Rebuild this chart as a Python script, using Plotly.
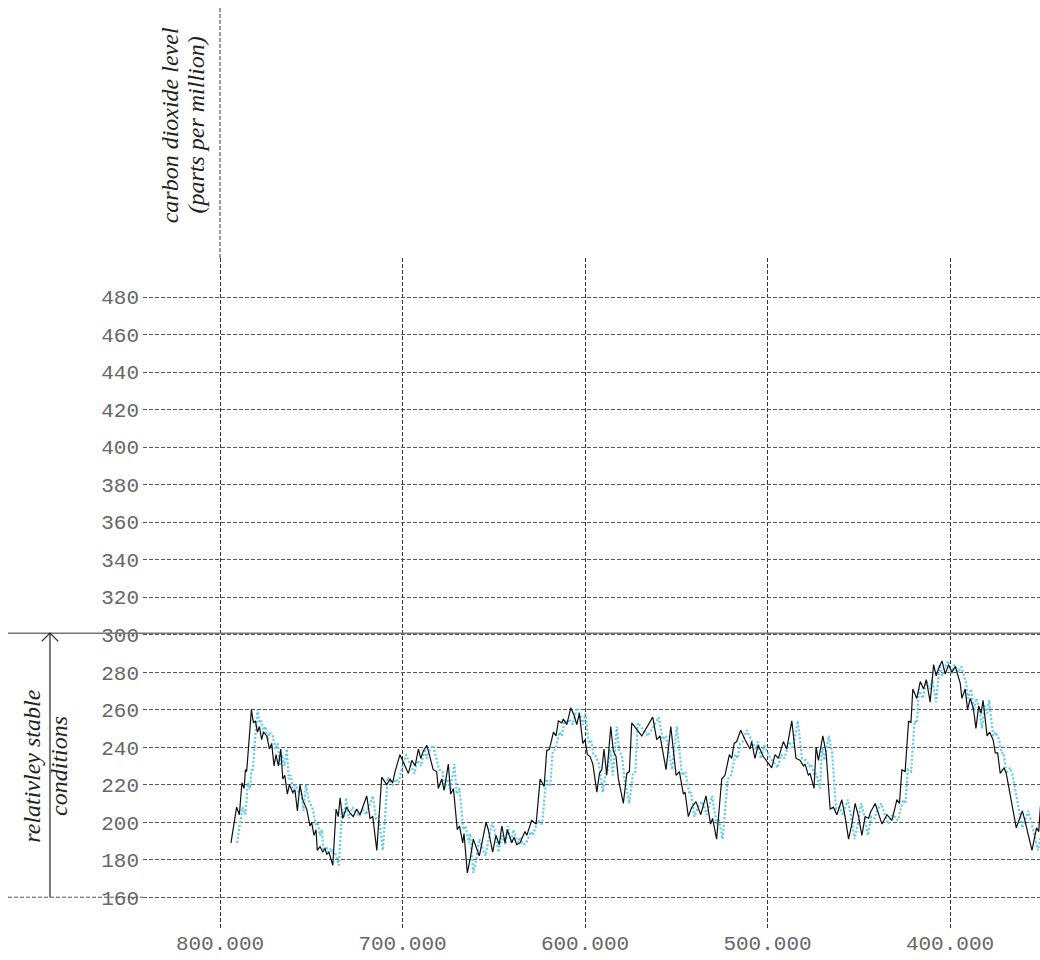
import plotly.graph_objects as go

# Age (thousand years before present) for the solid record
age_ice = [
    794.0, 790.9, 789.4, 788.0, 786.8, 786.1, 785.4, 782.8, 781.7, 780.6,
    779.5, 778.4, 777.2, 776.2, 774.4, 772.9, 771.7, 770.4, 769.3, 768.0,
    766.7, 765.6, 764.5, 763.1, 762.0, 761.3, 760.2, 758.9, 757.6, 756.2,
    754.7, 752.5, 750.7, 749.8, 748.5, 747.4, 746.7, 745.2, 743.7, 742.5,
    741.5, 740.3, 738.2, 736.4, 735.2, 734.2, 732.8, 730.6, 728.8, 727.0,
    725.1, 723.3, 719.6, 717.8, 716.3, 714.1, 711.4, 708.7, 706.8, 705.4,
    704.1, 701.4, 699.2, 696.8, 694.9, 693.1, 691.3, 690.0, 688.6, 686.7,
    685.3, 683.2, 681.3, 680.4, 678.5, 677.2, 674.9, 673.6, 672.1, 671.2,
    670.0, 668.8, 667.0, 666.3, 664.5, 663.0, 661.2, 657.9, 654.2, 653.0,
    650.6, 648.8, 647.0, 645.6, 643.8, 642.6, 640.1, 638.9, 637.4, 635.6,
    632.9, 631.9, 629.2, 626.8, 624.6, 622.4, 621.0, 619.5, 617.3, 615.9,
    614.6, 612.7, 611.9, 610.0, 607.8, 606.0, 604.5, 603.1, 601.2, 600.0,
    598.7, 597.2, 595.7, 593.5, 592.1, 590.8, 589.6, 588.1, 585.9, 584.5,
    583.0, 581.7, 579.0, 577.1, 575.7, 574.4, 568.9, 562.9, 560.7, 558.9,
    555.6, 553.0, 550.1, 548.3, 546.1, 545.2, 543.4, 541.5, 539.2, 536.6,
    533.7, 531.2, 530.1, 527.9, 525.1, 523.3, 520.9, 519.6, 518.3, 516.9,
    514.7, 512.3, 509.6, 508.7, 506.9, 505.1, 502.3, 497.7, 495.9, 494.1,
    491.3, 489.5, 486.7, 484.4, 482.2, 480.3, 479.4, 477.6, 476.7, 474.5,
    473.4, 472.1, 469.7, 467.9, 465.7, 463.9, 462.0, 459.3, 457.5, 455.6,
    453.8, 452.0, 450.1, 448.3, 446.5, 444.6, 443.7, 441.0, 438.2, 437.3,
    434.6, 431.8, 429.1, 427.7, 426.4, 424.6, 422.7, 421.4, 420.4, 418.2,
    416.3, 414.5, 413.0, 410.9, 409.0, 407.6, 406.3, 404.4, 402.6, 400.8,
    398.9, 397.1, 394.4, 393.5, 391.7, 390.4, 388.9, 387.1, 385.8, 384.3,
    383.0, 381.9, 379.7, 378.3, 376.4, 375.2, 373.9, 372.5, 370.4, 369.2,
    363.7, 360.4, 359.0, 355.1, 352.6, 351.4, 350.5, 349.0,
]

# Age (thousand years before present) for the dotted record
age_gas = [
    790.7, 787.6, 786.1, 784.7, 783.5, 782.8, 782.1, 779.5, 778.4, 777.3,
    776.2, 775.1, 773.9, 772.9, 771.1, 769.6, 768.4, 767.1, 766.0, 764.7,
    763.4, 762.3, 761.2, 759.8, 758.7, 758.0, 756.9, 755.6, 754.3, 752.9,
    751.4, 749.2, 747.4, 746.5, 745.2, 744.1, 743.4, 741.9, 740.4, 739.2,
    738.2, 737.0, 734.9, 733.1, 731.9, 730.9, 729.5, 727.3, 725.5, 723.7,
    721.8, 720.0, 716.3, 714.5, 713.0, 710.8, 708.1, 705.4, 703.5, 702.1,
    700.8, 698.1, 695.9, 693.5, 691.6, 689.8, 688.0, 686.7, 685.3, 683.4,
    682.0, 679.9, 678.0, 677.1, 675.2, 673.9, 671.6, 670.3, 668.8, 667.9,
    666.7, 665.5, 663.7, 663.0, 661.2, 659.7, 657.9, 654.6, 650.9, 649.7,
    647.3, 645.5, 643.7, 642.3, 640.5, 639.3, 636.8, 635.6, 634.1, 632.3,
    629.6, 628.6, 625.9, 623.5, 621.3, 619.1, 617.7, 616.2, 614.0, 612.6,
    611.3, 609.4, 608.6, 606.7, 604.5, 602.7, 601.2, 599.8, 597.9, 596.7,
    595.4, 593.9, 592.4, 590.2, 588.8, 587.5, 586.3, 584.8, 582.6, 581.2,
    579.7, 578.4, 575.7, 573.8, 572.4, 571.1, 565.6, 559.6, 557.4, 555.6,
    552.3, 549.7, 546.8, 545.0, 542.8, 541.9, 540.1, 538.2, 535.9, 533.3,
    530.4, 527.9, 526.8, 524.6, 521.8, 520.0, 517.6, 516.3, 515.0, 513.6,
    511.4, 509.0, 506.3, 505.4, 503.6, 501.8, 499.0, 494.4, 492.6, 490.8,
    488.0, 486.2, 483.4, 481.1, 478.9, 477.0, 476.1, 474.3, 473.4, 471.2,
    470.1, 468.8, 466.4, 464.6, 462.4, 460.6, 458.7, 456.0, 454.2, 452.3,
    450.5, 448.7, 446.8, 445.0, 443.2, 441.3, 440.4, 437.7, 434.9, 434.0,
    431.3, 428.5, 425.8, 424.4, 423.1, 421.3, 419.4, 418.1, 417.1, 414.9,
    413.0, 411.2, 409.7, 407.6, 405.7, 404.3, 403.0, 401.1, 399.3, 397.5,
    395.6, 393.8, 391.1, 390.2, 388.4, 387.1, 385.6, 383.8, 382.5, 381.0,
    379.7, 378.6, 376.4, 375.0, 373.1, 371.9, 370.6, 369.2, 367.1, 365.9,
    360.4, 357.1, 355.7, 351.8, 349.3, 348.1, 347.2, 345.7,
]

# CO2 concentration (ppm)
co2_ppm = [
    189, 208, 204, 221, 218, 228, 227, 260, 253, 254,
    248, 251, 244, 248, 246, 239, 242, 230, 236, 230,
    239, 223, 225, 215, 220, 218, 216, 217, 206, 220,
    212, 207, 198, 200, 193, 196, 185, 187, 184, 186,
    183, 184, 177, 207, 203, 213, 202, 208, 205, 203,
    207, 204, 214, 202, 203, 185, 224, 220, 223, 221,
    227, 236, 231, 226, 233, 230, 239, 234, 238, 241,
    236, 228, 227, 218, 223, 217, 231, 215, 218, 208,
    196, 198, 189, 194, 173, 180, 191, 182, 200, 196,
    184, 193, 188, 198, 189, 196, 189, 192, 188, 189,
    195, 193, 201, 199, 223, 219, 238, 239, 248, 246,
    254, 253, 255, 252, 261, 257, 252, 258, 242, 244,
    236, 235, 231, 216, 226, 228, 239, 225, 251, 238,
    235, 223, 210, 226, 227, 253, 246, 256, 244, 246,
    228, 251, 225, 227, 215, 216, 203, 208, 211, 204,
    214, 199, 202, 191, 223, 225, 236, 234, 242, 243,
    249, 244, 239, 243, 234, 241, 235, 229, 236, 234,
    243, 239, 254, 234, 233, 230, 231, 225, 226, 218,
    240, 233, 246, 237, 207, 208, 204, 212, 203, 191,
    199, 210, 203, 193, 203, 202, 205, 210, 202, 199,
    204, 201, 212, 210, 228, 227, 254, 253, 271, 266,
    275, 271, 276, 264, 284, 278, 282, 286, 279, 284,
    280, 283, 274, 266, 271, 260, 266, 260, 250, 262,
    258, 265, 246, 248, 244, 237, 237, 226, 229, 226,
    197, 206, 201, 185, 197, 195, 208, 215,
]

x_tickvals = [800, 700, 600, 500, 400]
x_ticktext = ["800.000", "700.000", "600.000", "500.000", "400.000"]
y_tickvals = list(range(160, 481, 20))

axis_title_lines = ["carbon dioxide level", "(parts per million)"]
band_label_lines = ["relativley stable", "conditions"]

MONO = "Liberation Mono"
SERIF = "Liberation Serif"

fig = go.Figure()

fig.add_trace(go.Scatter(
    x=age_gas, y=co2_ppm, mode="lines",
    line=dict(color="#5ec9f0", width=2.2, dash="2px,2px"),
    hoverinfo="skip", showlegend=False,
))
fig.add_trace(go.Scatter(
    x=age_ice, y=co2_ppm, mode="lines",
    line=dict(color="#111111", width=1.2),
    hoverinfo="skip", showlegend=False,
))

# paper-x of the far-left edge used by the extended rules
left_edge = -0.1505
arrow_x = -0.1037

shapes = [
    # baseline rule continued to the left edge
    dict(type="line", xref="paper", yref="y", x0=left_edge, x1=0, y0=160, y1=160,
         line=dict(color="#555555", width=1, dash="4px,2px")),
    # first vertical grid line continued to the top
    dict(type="line", xref="x", yref="paper", x0=800, x1=800, y0=1, y1=1.373,
         line=dict(color="#333333", width=1, dash="4px,2px")),
    # solid threshold line at 300 ppm
    dict(type="line", xref="paper", yref="y", x0=left_edge, x1=1, y0=300.8, y1=300.8,
         line=dict(color="#777777", width=1.5)),
    # arrow shaft
    dict(type="line", xref="paper", yref="y", x0=arrow_x, x1=arrow_x, y0=160, y1=300.8,
         line=dict(color="#222222", width=1.2)),
    # open arrow head
    dict(type="path", xref="paper", yref="y",
         path=f"M {arrow_x - 0.0092},{296.4} L {arrow_x},{300.8} L {arrow_x + 0.0092},{296.4}",
         line=dict(color="#222222", width=1.2)),
]

label_font = dict(family=SERIF, size=24, color="#222222", style="italic")
annotations = []
for text, xpos in zip(axis_title_lines, [0.0305, 0.0586]):
    annotations.append(dict(
        text=text, xref="paper", yref="paper", x=xpos, y=1.1985,
        xanchor="center", yanchor="middle", textangle=-90, showarrow=False,
        font=label_font))
for text, xpos in zip(band_label_lines, [-0.1233, -0.0930]):
    annotations.append(dict(
        text=text, xref="paper", yref="y", x=xpos, y=229.8,
        xanchor="center", yanchor="middle", textangle=-90, showarrow=False,
        font=label_font))

fig.update_layout(
    width=1040, height=960,
    margin=dict(l=143, r=0, t=258, b=32, pad=0),
    paper_bgcolor="white", plot_bgcolor="white",
    shapes=shapes, annotations=annotations,
    xaxis=dict(
        range=[842.2, 350.7],
        tickvals=x_tickvals, ticktext=x_ticktext,
        showgrid=True, gridcolor="#333333", gridwidth=1, griddash="4px,2px",
        zeroline=False, showline=False, automargin=False,
        ticks="", ticklen=0,
        tickfont=dict(family=MONO, size=21, color="#666666"),
    ),
    yaxis=dict(
        range=[143.6, 500.8],
        tickvals=y_tickvals,
        showgrid=True, gridcolor="#555555", gridwidth=1, griddash="4px,2px",
        zeroline=False, showline=False, automargin=False,
        ticks="", ticklen=0, ticklabelstandoff=3,
        tickfont=dict(family=MONO, size=21, color="#666666"),
    ),
)

fig.write_html("out.html")
